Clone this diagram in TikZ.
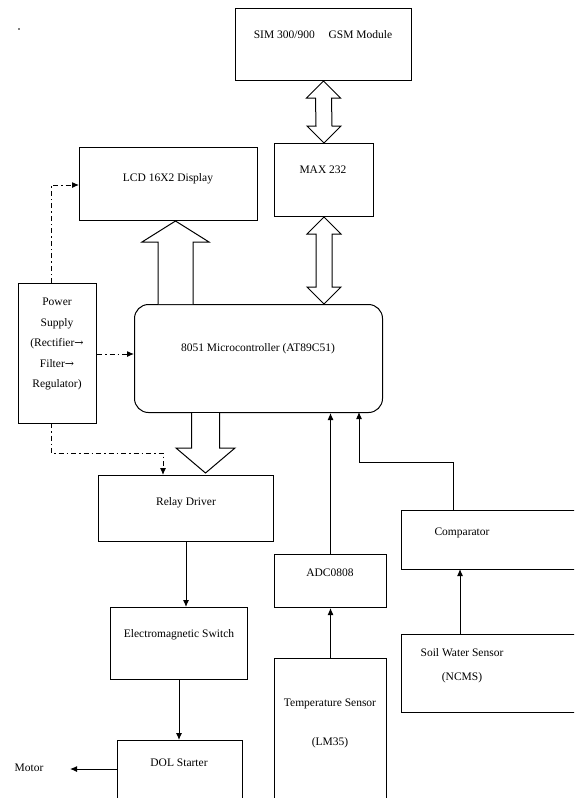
\documentclass[tikz,border=0pt]{standalone}
\usepackage{fontspec}
\setmainfont{Liberation Serif}
\newfontfamily\arrowfont{DejaVu Serif}
\usetikzlibrary{arrows.meta,calc}
\tikzset{
  box/.style={draw, line width=1pt, rectangle, inner sep=0pt, anchor=north west},
  lbl/.style={font=\fontsize{11.5}{13}\selectfont, inner sep=0pt},
  arr/.style={line width=1pt, -{Latex[length=7pt,width=6pt]}},
  dd/.style={line width=1pt, dash pattern=on 5pt off 3pt on 1.5pt off 3pt, -{Latex[length=7pt,width=6pt]}},
  hollow/.style={draw, line width=1pt, fill=white, line join=miter}
}
\newcommand{\myarrow}{{\arrowfont\fontsize{11}{11}\selectfont→}}
\begin{document}
\begin{tikzpicture}[x=1pt,y=-1pt]
\path[use as bounding box, fill=white] (0,0) rectangle (574,798);
\begin{scope}
\clip (0,0) rectangle (574,798);
% boxes
\node[box, minimum width=176, minimum height=72] (gsm) at (235,8) {};
\node[box, minimum width=99, minimum height=73] (max) at (274,143) {};
\node[box, minimum width=178, minimum height=73] (lcd) at (79,147) {};
\node[box, minimum width=78, minimum height=140] (pwr) at (18,283) {};
\node[box, rounded corners=14pt, minimum width=248, minimum height=108] (mcu) at (134,304) {};
\node[box, minimum width=175, minimum height=66] (relay) at (98,475) {};
\node[box, minimum width=137, minimum height=72] (em) at (110,607) {};
\node[box, minimum width=125, minimum height=80] (dol) at (117,740) {};
\node[box, minimum width=112, minimum height=53] (adc) at (274,554) {};
\node[box, minimum width=112, minimum height=160] (temp) at (274,658) {};
\node[box, minimum width=190, minimum height=59] (comp) at (401,510) {};
\node[box, minimum width=190, minimum height=78] (soil) at (401,634) {};
\end{scope}
% texts
\node[lbl] (tgsm) at (323,35) {SIM 300/900\hspace{1.2em}GSM Module};
\node[lbl] (tmax) at (323,170) {MAX 232};
\node[lbl] (tlcd) at (168,179) {LCD 16X2 Display};
\node[lbl, align=center, font=\fontsize{11.5}{20.5}\selectfont] (tpwr) at (57,344) {Power\\Supply\\(Rectifier\myarrow\\Filter\myarrow\\Regulator)};
\node[lbl] (tmcu) at (258,349) {8051 Microcontroller (AT89C51)};
\node[lbl] (trelay) at (186,503) {Relay Driver};
\node[lbl] (tem) at (179,635) {Electromagnetic Switch};
\node[lbl] (tdol) at (179,763) {DOL Starter};
\node[lbl] (tmotor) at (29,768) {Motor};
\node[lbl] (tadc) at (330,573) {ADC0808};
\node[lbl] (ttemp) at (330,704) {Temperature Sensor};
\node[lbl] (tlm) at (330,743) {(LM35)};
\node[lbl] (tcomp) at (462,533) {Comparator};
\node[lbl] (tsoil) at (462,653) {Soil Water Sensor};
\node[lbl] (tncms) at (462,678) {(NCMS)};
\fill (19,29) circle (0.8);
% hollow double arrow GSM <-> MAX
\draw[hollow] (gsm.south) -- ++(17,17) -- ++(-9,0) -- ($(max.north)+(8,-17)$) -- ++(9,0) -- (max.north) -- ++(-17,-17) -- ++(9,0) -- ($(gsm.south)+(-8,17)$) -- ++(-9,0) -- cycle;
% hollow double arrow MAX <-> MCU
\draw[hollow] (max.south) -- ++(17,17) -- ++(-9,0) -- ($(max.south |- mcu.north)+(8,-17)$) -- ++(9,0) -- (max.south |- mcu.north) -- ++(-17,-17) -- ++(9,0) -- ($(max.south)+(-8,17)$) -- ++(-9,0) -- cycle;
% hollow arrow MCU -> LCD
\coordinate (lcdtip) at (175.5,221);
\draw[hollow] ($(lcdtip |- mcu.north)+(-17.5,0)$) -- ($(lcdtip)+(-17.5,21)$) -- ($(lcdtip)+(-33.5,21)$) -- (lcdtip) -- ($(lcdtip)+(33.5,21)$) -- ($(lcdtip)+(17.5,21)$) -- ($(lcdtip |- mcu.north)+(17.5,0)$);
% hollow arrow MCU -> Relay
\coordinate (reltip) at (205.5,473);
\draw[hollow] ($(reltip |- mcu.south)+(-14,0)$) -- ($(reltip)+(-14,-25)$) -- ($(reltip)+(-29.5,-25)$) -- (reltip) -- ($(reltip)+(29.5,-25)$) -- ($(reltip)+(14,-25)$) -- ($(reltip |- mcu.south)+(14,0)$);
% power supply dash-dot connectors
\coordinate (ptop) at (51,283);
\coordinate (pbot) at (51,423);
\draw[dd] (ptop) -- (51,185) -- (lcd.west |- 0,185);
\draw[dd] (pwr.east |- 0,354) -- (mcu.west |- 0,354);
\draw[dd] (pbot) -- (51,453) -- (163,453) -- (163,475);
% signal connectors
\draw[arr] (relay.south) -- (relay.south |- em.north);
\draw[arr] (em.south) -- (em.south |- dol.north);
\draw[arr] (dol.west |- 0,769) -- (70,769);
\draw[arr] (adc.north) -- (adc.north |- mcu.south);
\draw[arr] (temp.north) -- (adc.south);
\coordinate (comptop) at (453,510);
\draw[arr] (comptop) -- (453,462) -- (359,462) -- (359,412);
\coordinate (soiltop) at (460,634);
\draw[arr] (soiltop) -- (460,569);
\end{tikzpicture}
\end{document}
